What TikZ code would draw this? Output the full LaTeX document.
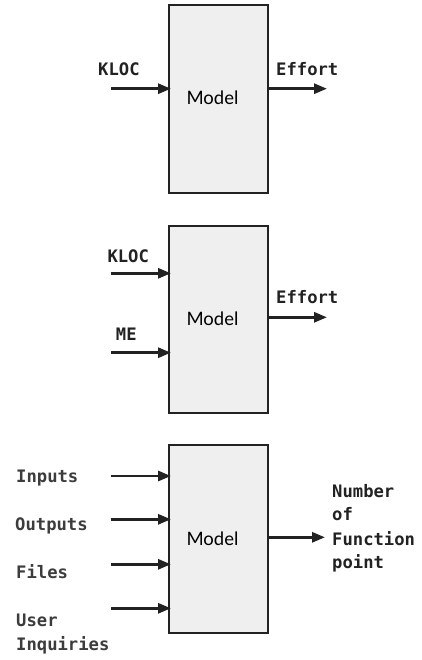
\documentclass[tikz,border=0pt]{standalone}
\usepackage{fontspec}
\usetikzlibrary{arrows.meta}
\newfontfamily\lblfont{DejaVu Sans Mono}
\newfontfamily\mdlfont{Lato}
\definecolor{boxfill}{HTML}{EFEFEF}
\definecolor{ink}{HTML}{222222}
\definecolor{lbl}{HTML}{222222}
\definecolor{lblgray}{HTML}{3C3C3C}
\tikzset{
  modelbox/.style={draw=ink, line width=2.2pt, fill=boxfill, minimum width=98.5pt,
    inner sep=0pt, anchor=north west},
  modeltext/.style={font=\mdlfont\fontsize{18.5}{18.5}\selectfont, text=black, anchor=base},
  lab/.style={font=\lblfont\bfseries\fontsize{17.2}{24}\selectfont, text=lbl, anchor=base west, inner sep=0pt},
  labgray/.style={lab, text=lblgray},
  arr/.style={draw=ink, line width=2.8pt, -{Triangle[length=13pt,width=10pt]}},
}
\begin{document}
\begin{tikzpicture}[x=1pt, y=-1pt]
\useasboundingbox[fill=white] (0,0) rectangle (422,660);

% ---- first model: KLOC -> Effort
\node[modelbox, minimum height=188pt] (m1) at (168,4) {};
\node[modeltext] (t1) at (212.5,105) {Model};
\node[lab] (kloc1) at (98,76) {KLOC};
\node[lab] (eff1) at (276,76) {Effort};
\coordinate (i1) at (110.5,88.7);
\coordinate (o1) at (327,88.7);
\draw[arr] (i1) -- ([xshift=3pt]i1 -| m1.west);
\draw[arr] (i1 -| m1.east) -- (o1);

% ---- second model: KLOC, ME -> Effort
\node[modelbox, minimum height=187pt] (m2) at (168,225) {};
\node[modeltext] (t2) at (212.5,325) {Model};
\node[lab] (kloc2) at (107.3,262.7) {KLOC};
\node[lab] (me2) at (115.7,340) {ME};
\node[lab] (eff2) at (276,303.3) {Effort};
\coordinate (i2a) at (110.5,273.3);
\coordinate (i2b) at (110.5,352.7);
\coordinate (o2) at (327,317.3);
\draw[arr] (i2a) -- ([xshift=3pt]i2a -| m2.west);
\draw[arr] (i2b) -- ([xshift=3pt]i2b -| m2.west);
\draw[arr] (o2 -| m2.east) -- (o2);

% ---- third model: function point counts
\node[modelbox, minimum height=188pt] (m3) at (168,444) {};
\node[modeltext] (t3) at (212.5,545) {Model};
\node[labgray] (inp) at (16,482.7) {Inputs};
\node[labgray] (outp) at (15,530) {Outputs};
\node[labgray] (files) at (16,578.3) {Files};
\node[labgray] (user) at (16,626.7) {User};
\node[labgray] (inq) at (16,650.7) {Inquiries};
\node[lab] (n1) at (332,497.3) {Number};
\node[lab] (n2) at (332,520.7) {of};
\node[lab] (n3) at (332,545) {Function};
\node[lab] (n4) at (332,568.3) {point};
\coordinate (i3a) at (110.5,476);
\coordinate (i3b) at (110.5,519.3);
\coordinate (i3c) at (110.5,564.3);
\coordinate (i3d) at (110.5,608.3);
\coordinate (o3) at (325,537.3);
\foreach \c in {i3a,i3b,i3c,i3d}
  \draw[arr] (\c) -- ([xshift=3pt]\c -| m3.west);
\draw[arr] (o3 -| m3.east) -- (o3);
\end{tikzpicture}
\end{document}
